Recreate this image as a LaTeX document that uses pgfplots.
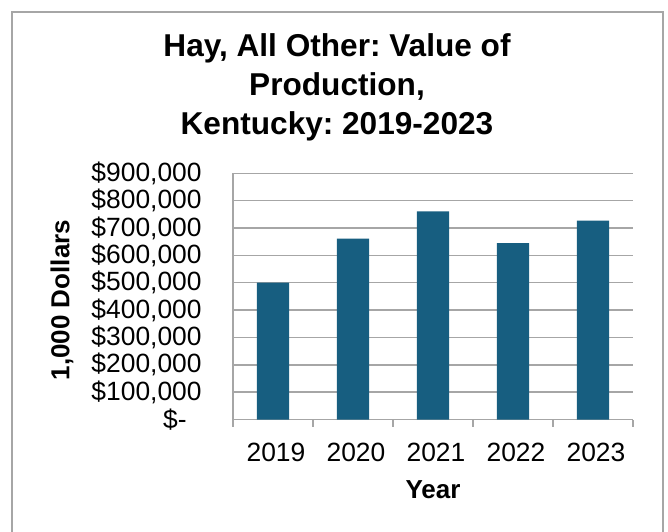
\documentclass[border=0pt]{standalone}
\usepackage{pgfplots}
\pgfplotsset{compat=1.18}
\usepackage{fontspec}
\setmainfont{Liberation Sans}
\frenchspacing
\definecolor{barc}{RGB}{23,94,128}
\definecolor{gridc}{RGB}{166,166,166}
\begin{document}
\begin{tikzpicture}[x=1pt,y=1pt]
\useasboundingbox (0,0) rectangle (334,-265.5);
\clip (0,0) rectangle (334,-265.5);
\draw[gridc, line width=0.75pt] (6,-6) rectangle (331.5,-290);
\node[font=\bfseries\fontsize{15.8}{19.5}\selectfont, align=center] at (168.5,-43.75) {Hay, All Other: Value of\\Production,\\Kentucky: 2019-2023};
\begin{axis}[
  at={(116.5pt,-209.75pt)}, anchor=south west,
  scale only axis, width=200pt, height=123.1pt,
  xmin=-0.5, xmax=4.5, ymin=0, ymax=900000,
  axis lines*=left,
  axis line style={gridc, line width=0.75pt, -},
  ymajorgrids, grid style={gridc, line width=0.75pt},
  major tick length=0pt,
  scaled y ticks=false,
  /pgf/number format/assume math mode=true,
  ytick={0,100000,200000,300000,400000,500000,600000,700000,800000,900000},
  yticklabels={{\$-\kern7.5pt},{\$100,000},{\$200,000},{\$300,000},{\$400,000},{\$500,000},{\$600,000},{\$700,000},{\$800,000},{\$900,000}},
  xtick={0,1,2,3,4},
  xticklabels={2019,2020,2021,2022,2023},
  extra x ticks={-0.5,0.5,1.5,2.5,3.5,4.5},
  extra x tick labels={},
  extra x tick style={major tick length=3.5pt, tick align=outside, tick style={gridc, line width=0.75pt}},
  tick label style={font=\fontsize{13.2}{15}\selectfont},
  yticklabel style={anchor=east, inner sep=0pt, xshift=-15.5pt},
  xticklabel style={anchor=north, inner sep=0pt, yshift=-11.5pt, xshift=1.5pt},
  xlabel={Year},
  ylabel={1,000 Dollars},
  xlabel style={at={(rel axis cs:0.5,-0.2864)}, anchor=center, font=\bfseries\fontsize{13}{15}\selectfont},
  ylabel style={at={(rel axis cs:-0.4275,0.485)}, anchor=center, rotate=0, font=\bfseries\fontsize{13}{15}\selectfont},
]
\addplot[ybar, bar width=16.2pt, fill=barc, draw=none] coordinates {(0,500000) (1,661000) (2,761000) (3,645000) (4,727000)};
\end{axis}
\end{tikzpicture}
\end{document}
